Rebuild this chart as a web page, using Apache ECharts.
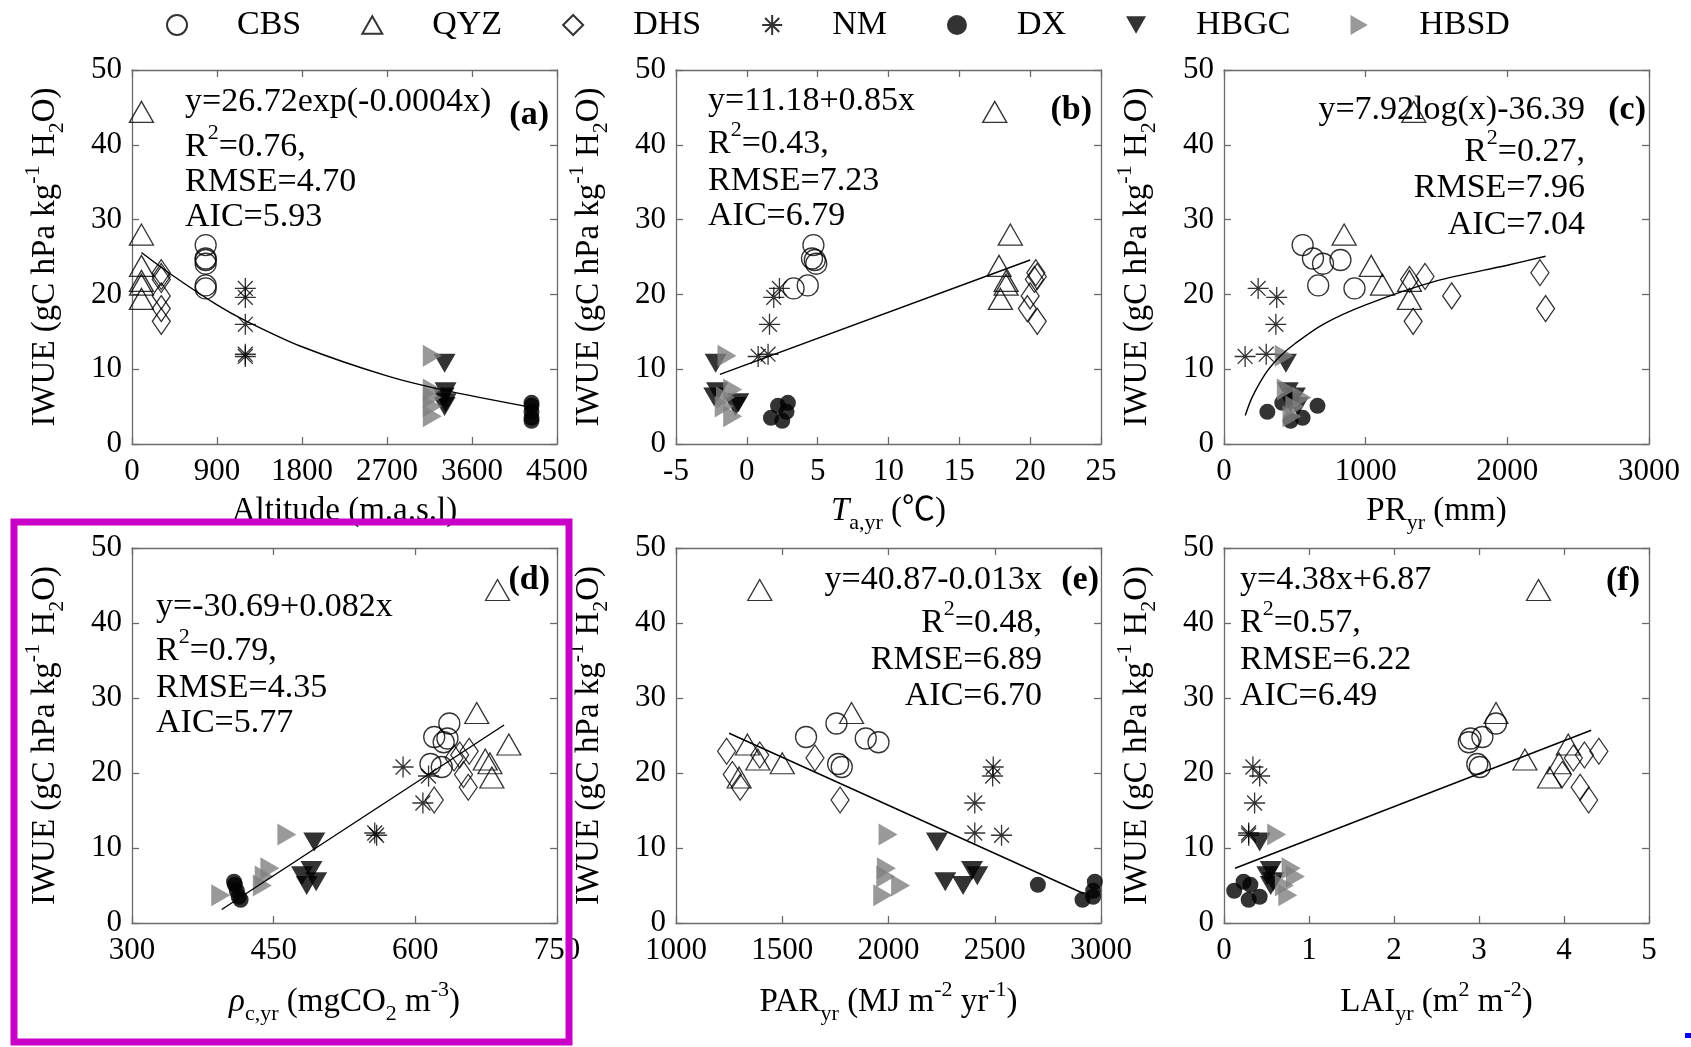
<!DOCTYPE html>
<html>
<head>
<meta charset="utf-8">
<script src="https://cdn.jsdelivr.net/npm/echarts@6/dist/echarts.min.js"></script>
<style>
  html, body { margin: 0; padding: 0; background: #fff; }
  #chart { width: 1691px; height: 1047px; }
</style>
</head>
<body>
<div id="chart"></div>
<script>
// sites, in legend order
const sites = ['CBS', 'QYZ', 'DHS', 'NM', 'DX', 'HBGC', 'HBSD'];

// IWUE (gC hPa kg-1 H2O), one row per site, same point order in every panel
const iwue = [
  [26.6, 24.8, 24.6, 24.1, 21.2, 20.8],
  [44.4, 28.0, 23.8, 21.8, 21.3, 19.4],
  [22.9, 22.4, 22.0, 19.8, 18.1, 16.4],
  [20.8, 19.6, 16.0, 12.0, 11.7],
  [5.5, 5.1, 4.3, 3.5, 3.1],
  [10.8, 7.0, 6.3, 5.5, 5.0],
  [11.8, 7.3, 6.2, 5.0, 3.7]
];

// drivers
const altitude = [
  [780, 780, 780, 780, 780, 780],
  [100, 100, 100, 100, 100, 100],
  [310, 310, 310, 310, 310, 310],
  [1200, 1200, 1200, 1200, 1200],
  [4230, 4230, 4230, 4230, 4230],
  [3310, 3320, 3300, 3320, 3310],
  [3180, 3180, 3180, 3180, 3180]
];
const taYr = [
  [4.7, 4.6, 4.8, 4.9, 4.3, 3.3],
  [17.5, 18.6, 17.8, 18.3, 18.3, 17.9],
  [20.4, 20.5, 20.3, 20.0, 19.8, 20.5],
  [2.3, 1.9, 1.6, 1.5, 0.8],
  [2.9, 2.2, 2.8, 1.7, 2.5],
  [-2.2, -2.1, -2.3, -0.6, -0.8],
  [-1.4, -1.0, -1.5, -1.6, -1.0]
];
const prYr = [
  [555, 628, 822, 699, 665, 921],
  [1340, 848, 1039, 1309, 1118, 1309],
  [2230, 1419, 1310, 1607, 2270, 1335],
  [241, 372, 366, 298, 149],
  [411, 660, 306, 555, 470],
  [437, 450, 500, 470, 520],
  [425, 440, 550, 500, 480]
];
const rhoC = [
  [636, 620, 634, 630, 616, 628],
  [687, 665, 699, 674, 679, 681],
  [657, 647, 641, 651, 656, 620],
  [587, 614, 608, 557, 559],
  [408, 409, 411, 413, 415],
  [493, 490, 480, 495, 485],
  [464, 446, 440, 438, 394]
];
const parYr = [
  [1755, 1612, 1893, 1953, 1763, 1780],
  [1394, 1826, 1336, 1385, 1500, 1297],
  [1238, 1394, 1654, 1265, 1302, 1772],
  [2493, 2490, 2406, 2406, 2532],
  [2971, 2703, 2963, 2963, 2913],
  [2228, 2393, 2418, 2267, 2351],
  [1998, 1990, 1987, 2057, 1973]
];
const laiYr = [
  [3.20, 3.04, 2.90, 2.88, 2.98, 3.01],
  [3.70, 3.20, 4.05, 3.54, 3.94, 3.83],
  [4.41, 4.24, 4.11, 3.98, 4.19, 4.29],
  [0.34, 0.42, 0.36, 0.29, 0.29],
  [0.23, 0.31, 0.12, 0.42, 0.29],
  [0.42, 0.55, 0.51, 0.58, 0.55],
  [0.62, 0.79, 0.84, 0.71, 0.75]
];

// fitted curves, points
const fitAltX = [100, 400, 900, 1200, 1800, 2700, 3300, 4230];
const fitAltY = [25.6, 22.8, 18.6, 16.5, 13.0, 9.1, 7.2, 4.9];
const fitTaX = [-1.9, 20.0];
const fitTaY = [9.3, 24.6];
const fitPrX = [150, 200, 300, 400, 500, 700, 1000, 1500, 2000, 2270];
const fitPrY = [3.8, 6.3, 9.6, 11.8, 13.4, 16.0, 18.6, 21.8, 23.9, 25.1];
const fitRhoX = [395, 694];
const fitRhoY = [1.8, 26.4];
const fitParX = [1250, 2920];
const fitParY = [25.3, 3.9];
const fitLaiX = [0.13, 4.32];
const fitLaiY = [7.3, 25.7];

// statistics printed in each panel
const noteA = ['y=26.72exp(-0.0004x)', 'R{sup|2}=0.76,', 'RMSE=4.70', 'AIC=5.93'];
const noteB = ['y=11.18+0.85x', 'R{sup|2}=0.43,', 'RMSE=7.23', 'AIC=6.79'];
const noteC = ['y=7.92log(x)-36.39', 'R{sup|2}=0.27,', 'RMSE=7.96', 'AIC=7.04'];
const noteD = ['y=-30.69+0.082x', 'R{sup|2}=0.79,', 'RMSE=4.35', 'AIC=5.77'];
const noteE = ['y=40.87-0.013x', 'R{sup|2}=0.48,', 'RMSE=6.89', 'AIC=6.70'];
const noteF = ['y=4.38x+6.87', 'R{sup|2}=0.57,', 'RMSE=6.22', 'AIC=6.49'];

const FONT = "'Liberation Serif', 'Noto Sans CJK SC', serif";
const FRAME = '#6b6b6b';

const panels = [
  { xs: altitude, fx: fitAltX, fy: fitAltY, min: 0, max: 4500, step: 900, name: 'Altitude (m.a.s.l)',
    grid: { left: 132, top: 70, width: 425, height: 374 }, nameGap: 40, smooth: 0.3,
    note: noteA, noteX: 185, noteY: [102, 147, 182, 217], align: 'left', tag: '(a)', tagX: 549, tagY: 115 },
  { xs: taYr, fx: fitTaX, fy: fitTaY, min: -5, max: 25, step: 5, name: '{it|T}{sub|a,yr} (℃)',
    grid: { left: 676, top: 70, width: 425, height: 374 }, nameGap: 40, smooth: false,
    note: noteB, noteX: 708, noteY: [101, 144, 181, 216], align: 'left', tag: '(b)', tagX: 1092, tagY: 110 },
  { xs: prYr, fx: fitPrX, fy: fitPrY, min: 0, max: 3000, step: 1000, name: 'PR{sub|yr} (mm)',
    grid: { left: 1224, top: 70, width: 425, height: 374 }, nameGap: 40, smooth: 0.3,
    note: noteC, noteX: 1585, noteY: [110, 152, 188, 225], align: 'right', tag: '(c)', tagX: 1646, tagY: 110 },
  { xs: rhoC, fx: fitRhoX, fy: fitRhoY, min: 300, max: 750, step: 150, name: '{it|ρ}{sub|c,yr} (mgCO{sub|2} m{sup|-3})',
    grid: { left: 132, top: 548, width: 425, height: 375 }, nameGap: 56, smooth: false,
    note: noteD, noteX: 156, noteY: [607, 651, 688, 723], align: 'left', tag: '(d)', tagX: 550, tagY: 580 },
  { xs: parYr, fx: fitParX, fy: fitParY, min: 1000, max: 3000, step: 500, name: 'PAR{sub|yr} (MJ m{sup|-2} yr{sup|-1})',
    grid: { left: 676, top: 548, width: 425, height: 375 }, nameGap: 56, smooth: false,
    note: noteE, noteX: 1042, noteY: [580, 623, 660, 696], align: 'right', tag: '(e)', tagX: 1099, tagY: 580 },
  { xs: laiYr, fx: fitLaiX, fy: fitLaiY, min: 0, max: 5, step: 1, name: 'LAI{sub|yr} (m{sup|2} m{sup|-2})',
    grid: { left: 1224, top: 548, width: 425, height: 375 }, nameGap: 56, smooth: false,
    note: noteF, noteX: 1240, noteY: [580, 623, 660, 696], align: 'left', tag: '(f)', tagX: 1640, tagY: 581 }
];

const open = { color: 'transparent', borderColor: '#000', borderWidth: 1.3 };
const markers = [
  { symbol: 'circle', size: 21, style: open },
  { symbol: 'path://M0,17.32L10,0L20,17.32Z', size: [24, 21], style: open },
  { symbol: 'diamond', size: [18, 26], style: open },
  { symbol: 'path://M10,0L10,20M0,10L20,10M2.93,2.93L17.07,17.07M2.93,17.07L17.07,2.93', size: 21, style: open },
  { symbol: 'circle', size: 16, style: { color: '#000' } },
  { symbol: 'path://M0,0L20,0L10,17.32Z', size: [22, 19], style: { color: '#000' } },
  { symbol: 'path://M0,0L17.32,10L0,20Z', size: [19, 22], style: { color: '#808080' } }
];

const nameRich = {
  sup: { fontSize: 22, lineHeight: 22, verticalAlign: 'top', fontFamily: FONT, color: '#000' },
  sub: { fontSize: 22, lineHeight: 22, verticalAlign: 'bottom', fontFamily: FONT, color: '#000' },
  it: { fontSize: 33, lineHeight: 46, fontStyle: 'italic', fontFamily: FONT, color: '#000' }
};
const nameStyle = { fontSize: 33, lineHeight: 46, fontFamily: FONT, color: '#000', rich: nameRich };
const tickStyle = { show: true, inside: true, length: 7, lineStyle: { color: FRAME, width: 1.3 } };
const lineStyle = { show: true, onZero: false, lineStyle: { color: FRAME, width: 1.3 } };
const labelStyle = { color: '#000', fontSize: 31, fontFamily: FONT, formatter: (v) => String(v) };

const grid = [], xAxis = [], yAxis = [], series = [], graphic = [];

panels.forEach((p, i) => {
  grid.push(Object.assign({ outerBoundsMode: 'none', containLabel: false }, p.grid));
  xAxis.push({
    type: 'value', gridIndex: i, position: 'bottom', min: p.min, max: p.max, interval: p.step,
    axisLine: lineStyle, axisTick: tickStyle, splitLine: { show: false },
    axisLabel: Object.assign({ margin: 12 }, labelStyle),
    name: p.name, nameLocation: 'middle', nameGap: p.nameGap, nameTextStyle: nameStyle
  });
  xAxis.push({
    type: 'value', gridIndex: i, position: 'top', min: p.min, max: p.max, interval: p.step,
    axisLine: lineStyle, axisTick: tickStyle, splitLine: { show: false }, axisLabel: { show: false }
  });
  yAxis.push({
    type: 'value', gridIndex: i, position: 'left', min: 0, max: 50, interval: 10,
    axisLine: lineStyle, axisTick: tickStyle, splitLine: { show: false },
    axisLabel: Object.assign({ margin: 10 }, labelStyle),
    name: 'IWUE (gC hPa kg{sup|-1} H{sub|2}O)', nameLocation: 'middle', nameRotate: 90, nameGap: 64,
    nameTextStyle: nameStyle
  });
  yAxis.push({
    type: 'value', gridIndex: i, position: 'right', min: 0, max: 50, interval: 10,
    axisLine: lineStyle, axisTick: tickStyle, splitLine: { show: false }, axisLabel: { show: false }
  });

  sites.forEach((s, j) => {
    series.push({
      type: 'scatter', name: s, xAxisIndex: 2 * i, yAxisIndex: 2 * i,
      symbol: markers[j].symbol, symbolSize: markers[j].size, itemStyle: markers[j].style,
      data: p.xs[j].map((v, k) => [v, iwue[j][k]]), silent: true, z: 3
    });
  });
  series.push({
    type: 'line', xAxisIndex: 2 * i, yAxisIndex: 2 * i, symbol: 'none', silent: true, z: 4,
    smooth: p.smooth, lineStyle: { color: '#000', width: 1.4 },
    data: p.fx.map((v, k) => [v, p.fy[k]])
  });

  p.note.forEach((t, k) => {
    graphic.push({
      type: 'text', x: p.noteX, y: p.noteY[k], z: 10,
      style: {
        text: t, fontSize: 34, fontFamily: FONT, fill: '#000', lineHeight: 50,
        align: p.align, verticalAlign: 'middle',
        rich: { sup: { fontSize: 22, lineHeight: 22, verticalAlign: 'top', fontFamily: FONT } }
      }
    });
  });
  graphic.push({
    type: 'text', x: p.tagX, y: p.tagY, z: 10,
    style: { text: p.tag, fontSize: 34, fontWeight: 'bold', fontFamily: FONT, fill: '#000', align: 'right', verticalAlign: 'middle' }
  });
});

// highlight frame round panel (d) and the small mark in the corner
graphic.push({
  type: 'rect', z: 20, shape: { x: 14, y: 522, width: 555, height: 520 },
  style: { fill: 'none', stroke: '#c800c8', lineWidth: 7 }
});
graphic.push({
  type: 'rect', z: 20, shape: { x: 1685, y: 1033, width: 6, height: 5 },
  style: { fill: '#0000ff' }
});

const chart = echarts.init(document.getElementById('chart'), null, { renderer: 'canvas' });
chart.setOption({
  backgroundColor: '#fff',
  animation: false,
  legend: {
    data: sites, left: 161, top: 3, itemWidth: 20, itemHeight: 20, itemGap: 60,
    selectedMode: false,
    textStyle: { fontSize: 34, fontFamily: FONT, color: '#000', padding: [0, 0, 0, 45] }
  },
  grid, xAxis, yAxis, series, graphic
});
</script>
</body>
</html>
